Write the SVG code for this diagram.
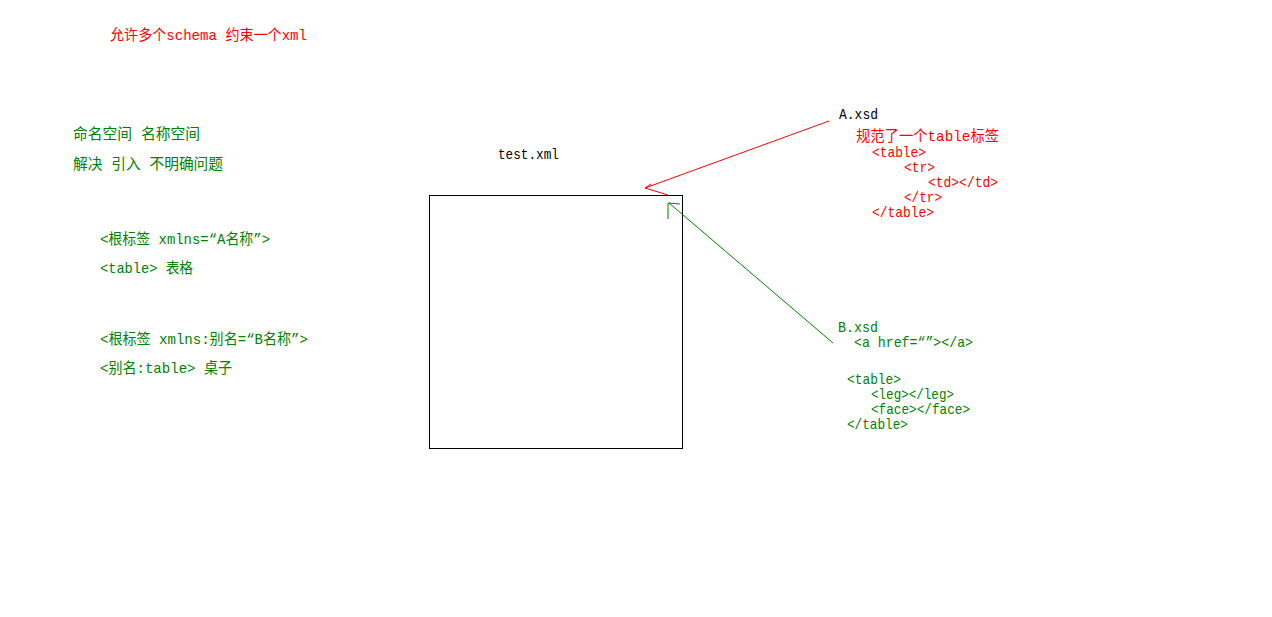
<svg xmlns="http://www.w3.org/2000/svg" width="1272" height="617" viewBox="0 0 1272 617">
<style>
text{font-family:"Liberation Mono","Noto Sans CJK SC",monospace;font-size:15px}
.r{fill:#ff0000}
.g{fill:#008000}
.k{fill:#000000}
</style>
<rect x="0" y="0" width="1272" height="617" fill="#ffffff"/>
<g id="notes">
<text class="r" x="110" y="40" textLength="197" lengthAdjust="spacingAndGlyphs">允许多个schema 约束一个xml</text>
<text class="g" x="73" y="139" textLength="127" lengthAdjust="spacingAndGlyphs">命名空间 名称空间</text>
<text class="g" x="73" y="169" textLength="150" lengthAdjust="spacingAndGlyphs">解决 引入 不明确问题</text>
<text class="g" x="100" y="244" textLength="170" lengthAdjust="spacingAndGlyphs">&lt;根标签 xmlns=“A名称”&gt;</text>
<text class="g" x="100" y="273" textLength="93" lengthAdjust="spacingAndGlyphs">&lt;table&gt; 表格</text>
<text class="g" x="100" y="344" textLength="208" lengthAdjust="spacingAndGlyphs">&lt;根标签 xmlns:别名=“B名称”&gt;</text>
<text class="g" x="100" y="373" textLength="132" lengthAdjust="spacingAndGlyphs">&lt;别名:table&gt; 桌子</text>
</g>
<g id="test-xml">
<text class="k" x="498" y="159" textLength="61" lengthAdjust="spacingAndGlyphs">test.xml</text>
<rect x="429.5" y="195.5" width="253" height="253" fill="none" stroke="#000000" stroke-width="1"/>
</g>
<g id="a-xsd">
<text class="k" x="839" y="119" textLength="39" lengthAdjust="spacingAndGlyphs">A.xsd</text>
<text class="r" x="856" y="141" textLength="143" lengthAdjust="spacingAndGlyphs">规范了一个table标签</text>
<text class="r" x="872" y="157" textLength="54" lengthAdjust="spacingAndGlyphs">&lt;table&gt;</text>
<text class="r" x="904" y="172" textLength="31" lengthAdjust="spacingAndGlyphs">&lt;tr&gt;</text>
<text class="r" x="928" y="187" textLength="70" lengthAdjust="spacingAndGlyphs">&lt;td&gt;&lt;/td&gt;</text>
<text class="r" x="904" y="202" textLength="38" lengthAdjust="spacingAndGlyphs">&lt;/tr&gt;</text>
<text class="r" x="872" y="217" textLength="62" lengthAdjust="spacingAndGlyphs">&lt;/table&gt;</text>
</g>
<g id="b-xsd">
<text class="g" x="838" y="332" textLength="40" lengthAdjust="spacingAndGlyphs">B.xsd</text>
<text class="g" x="854" y="347" textLength="119" lengthAdjust="spacingAndGlyphs">&lt;a href=“”&gt;&lt;/a&gt;</text>
<text class="g" x="847" y="384" textLength="54" lengthAdjust="spacingAndGlyphs">&lt;table&gt;</text>
<text class="g" x="871" y="399" textLength="83" lengthAdjust="spacingAndGlyphs">&lt;leg&gt;&lt;/leg&gt;</text>
<text class="g" x="871" y="414" textLength="99" lengthAdjust="spacingAndGlyphs">&lt;face&gt;&lt;/face&gt;</text>
<text class="g" x="847" y="429" textLength="61" lengthAdjust="spacingAndGlyphs">&lt;/table&gt;</text>
</g>
<g id="connectors" fill="none" stroke-width="1">
<path d="M829,121 L645,188 L668,195 M651,184 L645,188" stroke="#ff0000"/>
<path d="M833,343 L669,203 M668,203 L668,219 M668,203 L680,204" stroke="#008000"/>
</g>
</svg>
